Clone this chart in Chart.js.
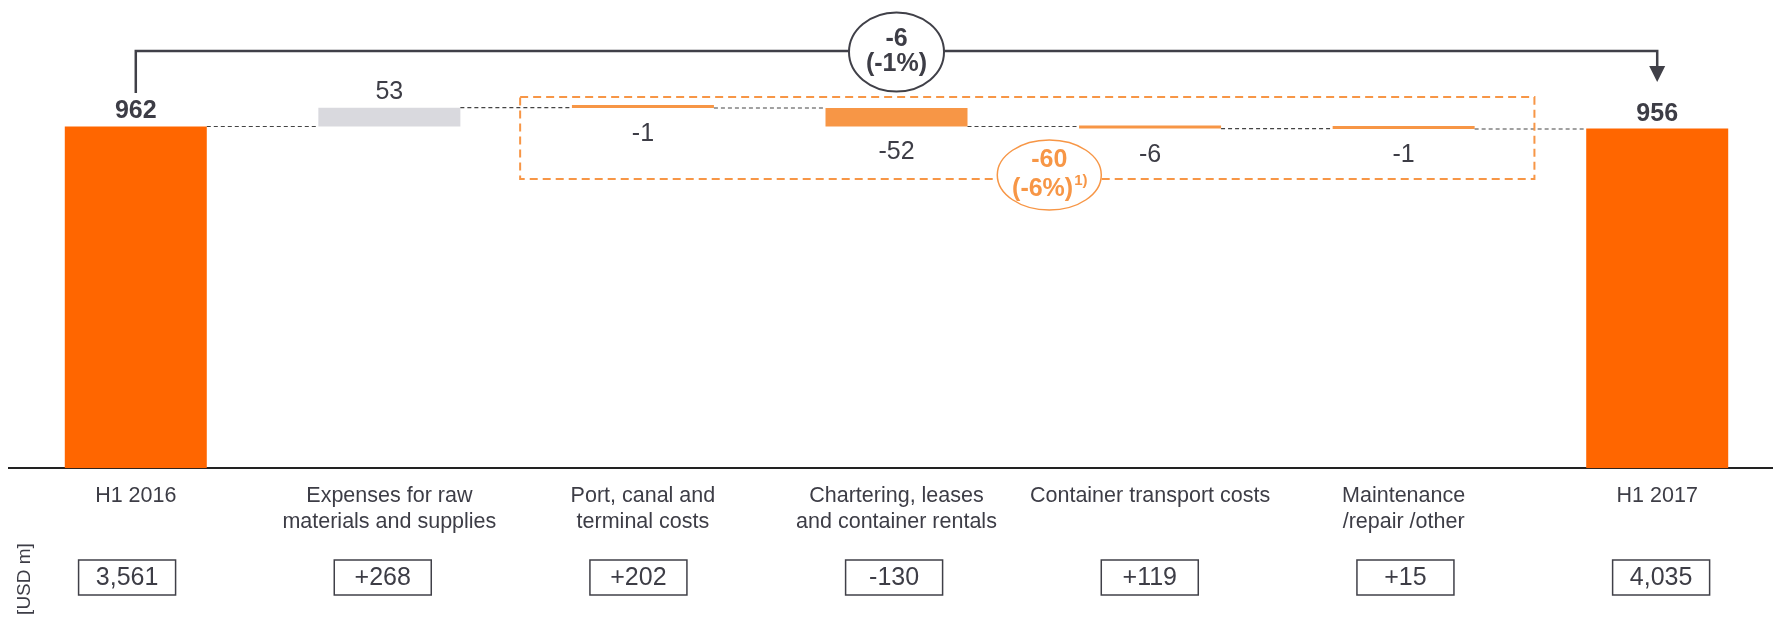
<!DOCTYPE html>
<html>
<head>
<meta charset="utf-8">
<script src="https://cdn.jsdelivr.net/npm/chart.js@4.4.1/dist/chart.umd.min.js"></script>
<style>
html, body { margin: 0; padding: 0; background: #fff; overflow: hidden; }
#wrap { width: 1773px; height: 617px; overflow: hidden; position: relative; }
canvas { position: absolute; left: 0; top: 0; }
</style>
</head>
<body>
<div id="wrap"><canvas id="c" width="1784" height="617"></canvas></div>
<script>
// categories (multi-line labels)
const categories = [
    ['H1 2016'],
    ['Expenses for raw', 'materials and supplies'],
    ['Port, canal and', 'terminal costs'],
    ['Chartering, leases', 'and container rentals'],
    ['Container transport costs'],
    ['Maintenance', '/repair /other'],
    ['H1 2017']
];
// first and last are totals, the rest are changes
const changes = [962, 53, -1, -52, -6, -1, 956];
const isTotal = [true, false, false, false, false, false, true];
const valueLabels = ['962', '53', '-1', '-52', '-6', '-1', '956'];
const boxValues = ['3,561', '+268', '+202', '-130', '+119', '+15', '4,035'];
const barColors = ['#FF6600', '#D9D9DE', '#F79646', '#F79646', '#F79646', '#F79646', '#FF6600'];
const totalChange = ['-6', '(-1%)'];
const groupChange = ['-60', '(-6%)', '1)'];

const FONT = '"Liberation Sans", Arial, sans-serif';
const TXT = '#3d3d46';
const ORANGE = '#F79646';

// build floating bars
let run = 0;
const bars = changes.map((v, i) => {
    if (isTotal[i]) { run = v; return [0, v]; }
    const s = run;
    run = run + v;
    return [s, run];
});

const overlay = {
    id: 'overlay',
    afterDatasetsDraw(chart) {
        const ctx = chart.ctx;
        const meta = chart.getDatasetMeta(0);
        const y = chart.scales.y;
        const x = chart.scales.x;
        ctx.save();

        // dashed connectors
        ctx.strokeStyle = '#444';
        ctx.lineWidth = 1.2;
        ctx.setLineDash([4, 3]);
        for (let i = 0; i < bars.length - 1; i++) {
            const a = meta.data[i], b = meta.data[i + 1];
            const lvl = y.getPixelForValue(bars[i][1]);
            ctx.beginPath();
            ctx.moveTo(a.x + a.width / 2, lvl);
            ctx.lineTo(b.x - b.width / 2, lvl);
            ctx.stroke();
        }
        ctx.setLineDash([]);

        // value labels
        ctx.textAlign = 'center';
        ctx.textBaseline = 'middle';
        ctx.fillStyle = TXT;
        bars.forEach((b, i) => {
            const el = meta.data[i];
            const top = Math.min(el.y, el.base);
            const bot = Math.max(el.y, el.base);
            if (isTotal[i]) {
                ctx.font = 'bold 25px ' + FONT;
                ctx.fillText(valueLabels[i], el.x, top - 15);
            } else if (changes[i] > 0) {
                ctx.font = '25px ' + FONT;
                ctx.fillText(valueLabels[i], el.x, top - 15.5);
            } else {
                ctx.font = '25px ' + FONT;
                ctx.fillText(valueLabels[i], el.x, bot + 26);
            }
        });

        // orange dashed box around the cost items
        const bx0 = x.getPixelForValue(1.5) + 4;
        const bx1 = x.getPixelForValue(5.5) + 4;
        const by0 = 97, by1 = 179;
        ctx.strokeStyle = ORANGE;
        ctx.lineWidth = 2;
        ctx.setLineDash([8, 5]);
        ctx.strokeRect(bx0, by0, bx1 - bx0, by1 - by0);
        ctx.setLineDash([]);

        // orange ellipse
        const ocx = (bx0 + bx1) / 2 + 22, ocy = 175;
        ctx.beginPath();
        ctx.ellipse(ocx, ocy, 52, 35, 0, 0, Math.PI * 2);
        ctx.fillStyle = '#fff';
        ctx.fill();
        ctx.lineWidth = 1.5;
        ctx.strokeStyle = ORANGE;
        ctx.stroke();
        ctx.fillStyle = ORANGE;
        ctx.font = 'bold 25px ' + FONT;
        ctx.fillText(groupChange[0], ocx, 160);
        const w1 = ctx.measureText(groupChange[1]).width;
        ctx.font = 'bold 15px ' + FONT;
        const w2 = ctx.measureText(groupChange[2]).width;
        const sx = ocx - (w1 + w2) / 2;
        ctx.textAlign = 'left';
        ctx.font = 'bold 25px ' + FONT;
        ctx.fillText(groupChange[1], sx, 189);
        ctx.font = 'bold 15px ' + FONT;
        ctx.fillText(groupChange[2], sx + w1 + 1, 181);
        ctx.textAlign = 'center';

        // top bracket with arrow
        const x0 = meta.data[0].x, x6 = meta.data[bars.length - 1].x;
        const ly = 51;
        ctx.strokeStyle = '#404048';
        ctx.lineWidth = 2.5;
        ctx.beginPath();
        ctx.moveTo(x0, 93);
        ctx.lineTo(x0, ly);
        ctx.lineTo(x6, ly);
        ctx.lineTo(x6, 68);
        ctx.stroke();
        ctx.fillStyle = '#404048';
        ctx.beginPath();
        ctx.moveTo(x6 - 8, 66);
        ctx.lineTo(x6 + 8, 66);
        ctx.lineTo(x6, 82);
        ctx.closePath();
        ctx.fill();

        const ecx = (x0 + x6) / 2;
        ctx.beginPath();
        ctx.ellipse(ecx, 52, 47.5, 39.5, 0, 0, Math.PI * 2);
        ctx.fillStyle = '#fff';
        ctx.fill();
        ctx.lineWidth = 2;
        ctx.stroke();
        ctx.fillStyle = TXT;
        ctx.font = 'bold 25px ' + FONT;
        ctx.fillText(totalChange[0], ecx, 39);
        ctx.fillText(totalChange[1], ecx, 64);

        // boxes with values below the categories
        ctx.font = '25px ' + FONT;
        ctx.strokeStyle = '#404048';
        ctx.lineWidth = 1.5;
        meta.data.forEach((el, i) => {
            const cx = el.x - 8.7 + 2.1 * i;
            ctx.strokeRect(cx - 48.5, 560, 97, 35);
            ctx.fillStyle = TXT;
            ctx.fillText(boxValues[i], cx, 578);
        });

        // unit label
        ctx.save();
        ctx.translate(25, 579);
        ctx.rotate(-Math.PI / 2);
        ctx.font = '19px ' + FONT;
        ctx.fillText('[USD m]', 0, 0);
        ctx.restore();

        ctx.restore();
    }
};

new Chart(document.getElementById('c'), {
    type: 'bar',
    data: {
        labels: categories,
        datasets: [{
            data: bars,
            backgroundColor: barColors,
            borderWidth: 0,
            barPercentage: 0.56,
            categoryPercentage: 1,
            minBarLength: 3
        }]
    },
    options: {
        responsive: false,
        animation: false,
        events: [],
        layout: { padding: { left: 9, right: 0, top: 0, bottom: 66.5 } },
        plugins: {
            legend: { display: false },
            tooltip: { enabled: false }
        },
        scales: {
            x: {
                grid: { display: false, drawTicks: false },
                border: { display: true, color: '#222', width: 2 },
                ticks: {
                    color: TXT,
                    font: { family: FONT, size: 21.5 },
                    padding: 15.3,
                    maxRotation: 0,
                    autoSkip: false
                }
            },
            y: { display: false, min: 0, max: 1318 }
        }
    },
    plugins: [overlay]
});
</script>
</body>
</html>
